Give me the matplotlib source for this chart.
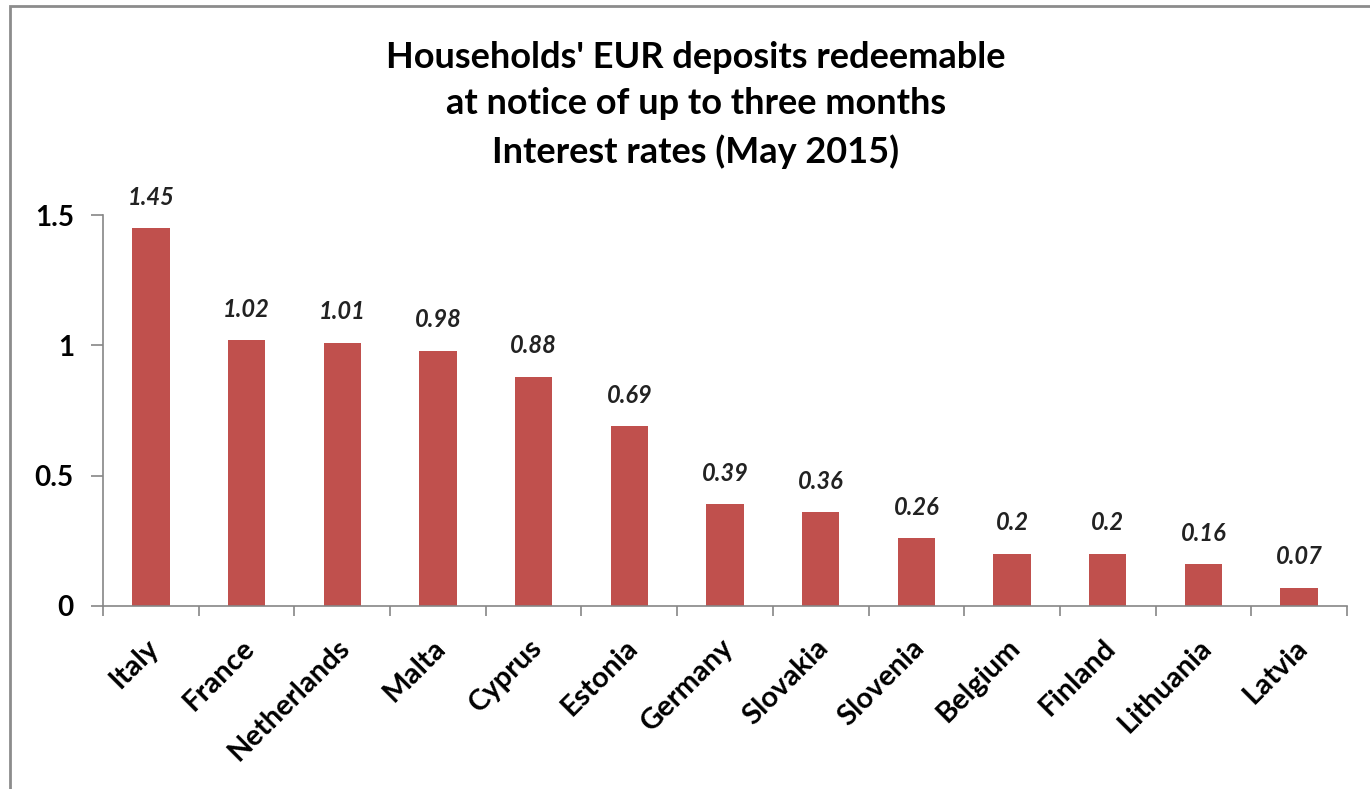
import matplotlib.pyplot as plt
import matplotlib.transforms as mtransforms
import numpy as np

countries = ["Italy", "France", "Netherlands", "Malta", "Cyprus", "Estonia", "Germany",
             "Slovakia", "Slovenia", "Belgium", "Finland", "Lithuania", "Latvia"]
rates = [1.45, 1.02, 1.01, 0.98, 0.88, 0.69, 0.39, 0.36, 0.26, 0.2, 0.2, 0.16, 0.07]
value_labels = ["1.45", "1.02", "1.01", "0.98", "0.88", "0.69", "0.39",
                "0.36", "0.26", "0.2", "0.2", "0.16", "0.07"]
yticks = [0, 0.5, 1, 1.5]
ytick_labels = ["0", "0.5", "1", "1.5"]

plt.rcParams['font.family'] = ['Lato', 'DejaVu Sans']

fig = plt.figure(figsize=(13.7, 7.89), dpi=100)
ax = fig.add_axes([0.0752, 0.232, 0.908, 0.4955])

x = np.arange(len(countries))
ax.bar(x, rates, width=0.39, color='#C0504D')

for xi, v, lab in zip(x, rates, value_labels):
    ax.annotate(lab, (xi, v), xytext=(0, 14), textcoords='offset points',
                ha='center', va='bottom', fontsize=17, fontweight='bold',
                fontstyle='italic', color='#222222')

ax.set_xlim(-0.5, len(countries) - 0.5)
ax.set_ylim(0, 1.5)
ax.set_yticks(yticks)
ax.set_yticklabels(ytick_labels, fontsize=20, fontweight='bold')

ax.set_xticks(x)
ax.set_xticklabels(countries, rotation=45, ha='right', va='center',
                   rotation_mode='anchor', fontsize=21, fontweight='bold')
ax.tick_params(axis='x', length=0, pad=27)
offset = mtransforms.ScaledTranslation(4 / 100, 0, fig.dpi_scale_trans)
for lbl in ax.get_xticklabels():
    lbl.set_transform(lbl.get_transform() + offset)
ax.set_xticks(np.arange(-0.5, len(countries), 1), minor=True)
ax.tick_params(axis='x', which='minor', length=7, color='#868686', width=1.2)
ax.tick_params(axis='y', length=9, color='#868686', width=1.2, pad=12)

for s in ['top', 'right']:
    ax.spines[s].set_visible(False)
for s in ['left', 'bottom']:
    ax.spines[s].set_color('#868686')
    ax.spines[s].set_linewidth(1.2)

fig.text(0.508, 0.867, "Households' EUR deposits redeemable\nat notice of up to three months\nInterest rates (May 2015)",
         ha='center', va='center', fontsize=26, fontweight='bold', linespacing=1.5)

# outer frame
frame = plt.Rectangle((0.0075, -0.01), 1.0, 1.0025, transform=fig.transFigure,
                      fill=False, edgecolor='#8c8c8c', linewidth=2)
fig.patches.append(frame)

fig.savefig("out.png", dpi=100)
